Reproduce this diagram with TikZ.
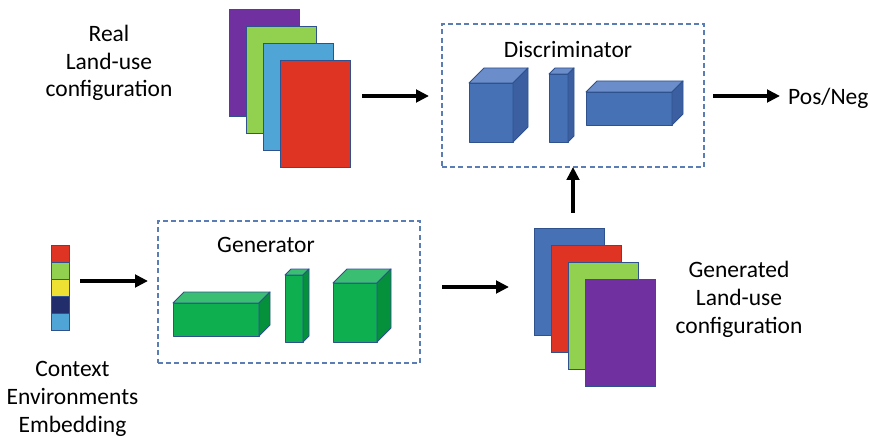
\documentclass[tikz,border=0pt]{standalone}
\usepackage{fontspec}
\setmainfont{Carlito}
\usetikzlibrary{arrows.meta,calc}

\definecolor{pgPurple}{HTML}{7030A0}
\definecolor{pgGreen}{HTML}{92D050}
\definecolor{pgSky}{HTML}{4FA6D6}
\definecolor{pgRed}{HTML}{DF3324}
\definecolor{pgBlue}{HTML}{4671B4}
\definecolor{pgEdge}{HTML}{2F528F}
\definecolor{pgYellow}{HTML}{EEE133}
\definecolor{pgNavy}{HTML}{222D6C}
\definecolor{boxDash}{HTML}{5B7DB5}
\definecolor{cubeBlueTop}{HTML}{6B8ECB}
\definecolor{cubeBlueSide}{HTML}{3C5FA1}
\definecolor{cubeGreen}{HTML}{0EAF4F}
\definecolor{cubeGreenTop}{HTML}{3ABF72}
\definecolor{cubeGreenSide}{HTML}{05903C}

% cuboid: front face (x1,y1)-(x2,y2), depth d, fills for front, top, side
\newcommand{\cuboid}[8]{%
  \filldraw[cubeline,fill=#6] (#1,#2) rectangle (#3,#4);
  \filldraw[cubeline,fill=#7] (#1,#2) -- ++(#5,-#5) -- ($(#3,#2)+(#5,-#5)$) -- (#3,#2) -- cycle;
  \filldraw[cubeline,fill=#8] (#3,#2) -- ($(#3,#2)+(#5,-#5)$) -- ($(#3,#4)+(#5,-#5)$) -- (#3,#4) -- cycle;}

\begin{document}
\begin{tikzpicture}[x=1pt,y=-1pt,
  every node/.style={font=\fontsize{23.5}{27.8}\selectfont},
  page/.style={draw=pgEdge,line width=1pt,minimum width=70pt,minimum height=107pt,inner sep=0pt},
  cell/.style={draw=pgEdge,line width=0.9pt,minimum width=18pt,minimum height=17pt,inner sep=0pt},
  dashbox/.style={draw=boxDash,line width=1.2pt,dash pattern=on 5pt off 3.2pt,inner sep=0pt},
  cubeline/.style={draw=pgEdge,line width=0.9pt,line join=round},
  flow/.style={line width=3.3pt,-{Triangle[length=13pt,width=12.5pt]}},
  label/.style={align=center,anchor=base,inner sep=0pt}]

\useasboundingbox (0,0) rectangle (869,438);

% real land-use stack
\node[page,fill=pgPurple] (r1) at (264,63) {};
\node[page,fill=pgGreen]  (r2) at (281,80) {};
\node[page,fill=pgSky]    (r3) at (298,97) {};
\node[page,fill=pgRed]    (r4) at (315,114) {};
% the base anchor of a multi-line node sits on its last line
\node[label] (realtxt) at (109,97) {Real\\Land-use\\configuration};

% generated land-use stack
\node[page,fill=pgBlue]   (g1) at (569,282) {};
\node[page,fill=pgRed]    (g2) at (586,299) {};
\node[page,fill=pgGreen]  (g3) at (603,316) {};
\node[page,fill=pgPurple] (g4) at (620,333) {};
\node[label] (gentxt) at (739,333) {Generated\\Land-use\\configuration};

% embedding vector
\node[cell,fill=pgRed]    (e1) at (60,253.5) {};
\node[cell,fill=pgGreen]  (e2) at (60,270.5) {};
\node[cell,fill=pgYellow] (e3) at (60,287.5) {};
\node[cell,fill=pgNavy]   (e4) at (60,304.5) {};
\node[cell,fill=pgSky]    (e5) at (60,321.5) {};
\node[label] (embtxt) at (72.5,432) {Context\\Environments\\Embedding};

% discriminator
\node[dashbox,minimum width=262pt,minimum height=143pt] (disc) at (573,95.5) {};
\node[label] (disctxt) at (568,58) {Discriminator};
\cuboid{469}{83}{513}{142}{15}{pgBlue}{cubeBlueTop}{cubeBlueSide}
\cuboid{549}{74}{568}{142}{6}{pgBlue}{cubeBlueTop}{cubeBlueSide}
\cuboid{586}{92}{672}{125}{11}{pgBlue}{cubeBlueTop}{cubeBlueSide}

% generator
\node[dashbox,minimum width=262pt,minimum height=142pt] (gen) at (289,292) {};
\node[label] (gentitle) at (266,252) {Generator};
\cuboid{173}{303}{259}{336}{11}{cubeGreen}{cubeGreenTop}{cubeGreenSide}
\cuboid{285}{275}{303}{342}{6}{cubeGreen}{cubeGreenTop}{cubeGreenSide}
\cuboid{333}{283}{377}{342}{14}{cubeGreen}{cubeGreenTop}{cubeGreenSide}

% output label
\node[label,anchor=base west] (out) at (788,105) {Pos/Neg};

% arrow end points
\coordinate (a1s) at (362,96);  \coordinate (a1e) at (429,96);
\coordinate (a2s) at (80,281);  \coordinate (a2e) at (148,281);
\coordinate (a3s) at (442,287); \coordinate (a3e) at (509,287);
\coordinate (a4s) at (573,213); \coordinate (a4e) at (573,167);
\coordinate (a5s) at (713,96);  \coordinate (a5e) at (780,96);

\draw[flow] (a1s) -- (a1e);
\draw[flow] (a2s) -- (a2e);
\draw[flow] (a3s) -- (a3e);
\draw[flow] (a4s) -- (a4e);
\draw[flow] (a5s) -- (a5e);
\end{tikzpicture}
\end{document}
